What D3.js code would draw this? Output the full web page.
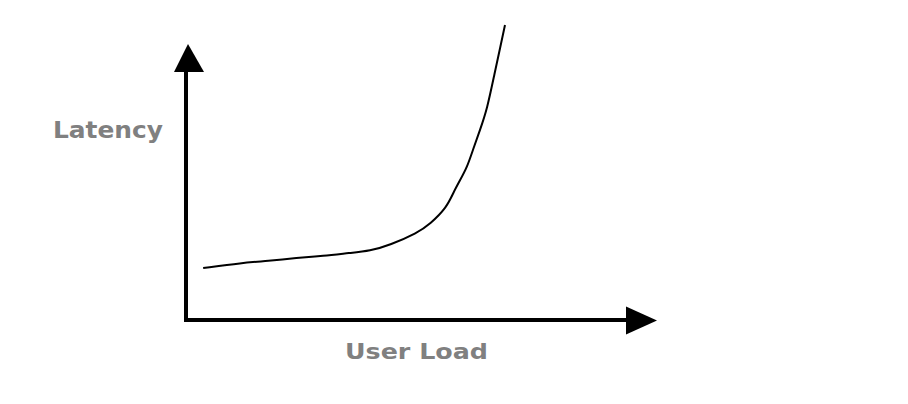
<!DOCTYPE html>
<html>
<head>
<meta charset="utf-8">
<script src="https://cdn.jsdelivr.net/npm/d3@7"></script>
<style>
  html, body { margin: 0; padding: 0; background: #fff; }
  svg { display: block; }
</style>
</head>
<body>
<svg id="chart" width="908" height="404"></svg>
<script>
// Data
const userLoad = [3.9, 12.7, 18.6, 25.2, 31.1, 37.3, 41.8, 46.4, 52.5, 55.5, 59.3, 60.7, 62.3, 63.9, 65.2, 66.8, 68.4, 70.2, 71.4, 72.5];
const latency  = [18.8, 20.7, 21.4, 22.5, 23.2, 24.3, 25.0, 27.2, 31.5, 34.8, 40.9, 46.0, 50.7, 55.4, 61.6, 68.8, 76.1, 89.9, 98.6, 106.9];
const xLabel = "User Load";
const yLabel = "Latency";

const svg = d3.select("#chart");
const W = 908, H = 404;
svg.append("rect").attr("width", W).attr("height", H).attr("fill", "#fff");

const x = d3.scaleLinear().domain([0, 100]).range([186, 626]);
const y = d3.scaleLinear().domain([0, 100]).range([320, 44]);

const axisColor = "#000";
const labelColor = "#808080";

// X axis line + arrow
const x0 = x(0), x1 = x(100), yb = y(0);
svg.append("line")
  .attr("x1", x0 - 2).attr("x2", x1 + 2)
  .attr("y1", yb).attr("y2", yb)
  .attr("stroke", axisColor).attr("stroke-width", 4);
svg.append("path")
  .attr("d", `M${x1},${yb - 13.5}L${x1 + 31},${yb + 0.5}L${x1},${yb + 14.5}Z`)
  .attr("fill", axisColor);

// Y axis line + arrow
const yTip = y(100);
const yBase = yTip + 28;
svg.append("line")
  .attr("x1", x0).attr("x2", x0)
  .attr("y1", yb + 2).attr("y2", yBase - 2)
  .attr("stroke", axisColor).attr("stroke-width", 4);
svg.append("path")
  .attr("d", `M${x0 - 12},${yBase}L${x0 + 2},${yTip}L${x0 + 18},${yBase}Z`)
  .attr("fill", axisColor);

// Curve
const pts = userLoad.map((u, i) => [u, latency[i]]);
const line = d3.line()
  .x(d => x(d[0]))
  .y(d => y(d[1]))
  .curve(d3.curveBasis);
svg.append("path")
  .datum(pts)
  .attr("d", line)
  .attr("fill", "none")
  .attr("stroke", "#000")
  .attr("stroke-width", 2);

// Labels
svg.append("text")
  .attr("x", 53).attr("y", 138)
  .attr("font-family", "DejaVu Sans, Verdana, sans-serif")
  .attr("font-weight", "bold")
  .attr("font-size", 23)
  .attr("fill", labelColor)
  .attr("textLength", 110)
  .attr("lengthAdjust", "spacingAndGlyphs")
  .text(yLabel);

svg.append("text")
  .attr("x", 345).attr("y", 359)
  .attr("font-family", "DejaVu Sans, Verdana, sans-serif")
  .attr("font-weight", "bold")
  .attr("font-size", 22)
  .attr("fill", labelColor)
  .attr("textLength", 143)
  .attr("lengthAdjust", "spacingAndGlyphs")
  .text(xLabel);
</script>
</body>
</html>
